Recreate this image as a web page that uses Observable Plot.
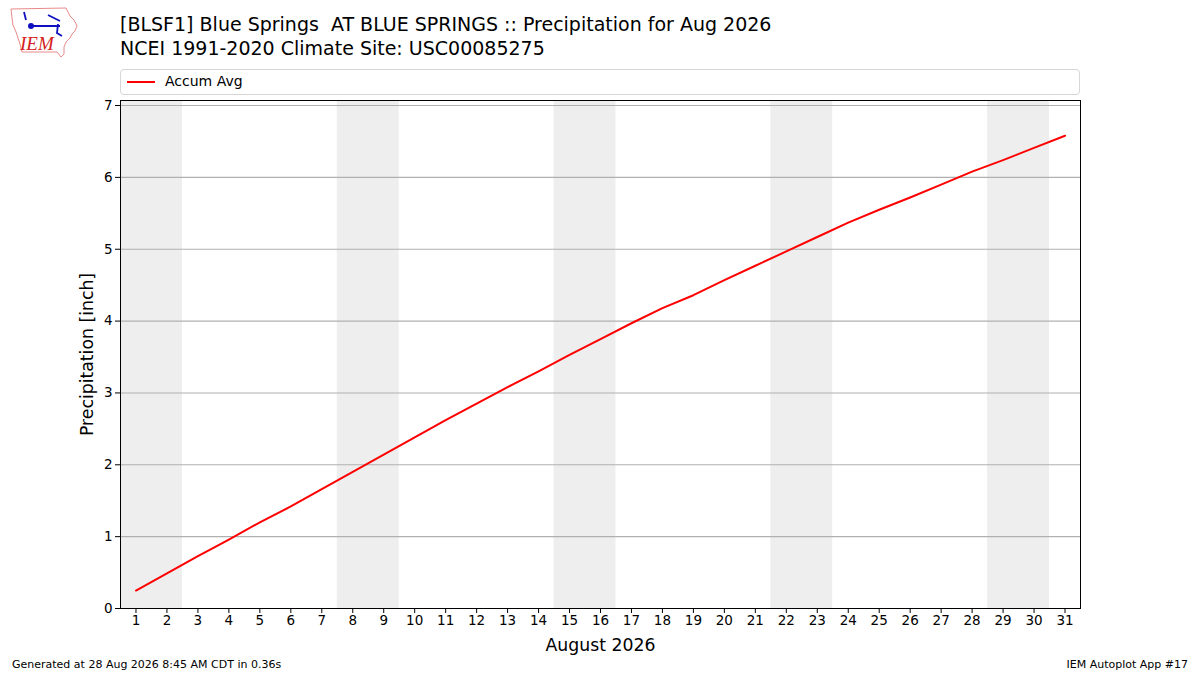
<!DOCTYPE html>
<html>
<head>
<meta charset="utf-8">
<script src="https://cdn.jsdelivr.net/npm/d3@7"></script>
<script src="https://cdn.jsdelivr.net/npm/@observablehq/plot@0.6"></script>
<style>
  html, body { margin: 0; padding: 0; background: #fff; }
  body { width: 1200px; height: 675px; position: relative; overflow: hidden; font-family: "DejaVu Sans", sans-serif; color: #000; }
  .abs { position: absolute; white-space: nowrap; }
  #chart { position: absolute; left: 0; top: 0; }
  .title { font-size: 19px; left: 120px; line-height: 24px; }
  .legend { left: 120px; top: 69px; width: 958px; height: 24px; border: 1px solid #d6d6d6; border-radius: 4px; background: rgba(255,255,255,0.8); }
  .legend .swatch { position: absolute; left: 6px; top: 11px; width: 28px; height: 2px; background: #ff0000; }
  .legend .lbl { position: absolute; left: 44px; top: 3px; font-size: 14px; }
  .foot { font-size: 11px; top: 658px; }
</style>
</head>
<body>
<div id="chart"></div>
<svg class="abs" style="left:0;top:0" width="90" height="62">
  <polygon points="11,9 66,8 68,12 70,16 74,20 77,26 75,31 72,34 70,38 66,42 64,47 64,54 61,57 57,52 22,52 20,44 18,38 16,32 13,25 12,18" fill="none" stroke="#e88a8a" stroke-width="1"/>
  <path d="M24,12 L26,20 M30,26 L60,26 M48,15 L60,21 M58,24 L57,33 L62,36" stroke="#1010c0" stroke-width="1.8" fill="none"/>
  <circle cx="31" cy="26" r="3" fill="#1010c0"/>
  <text x="20" y="50" font-family="Liberation Serif, serif" font-style="italic" font-size="19" fill="#d42020">IEM</text>
</svg>
<div class="abs title" style="top:12px">[BLSF1] Blue Springs&nbsp; AT BLUE SPRINGS :: Precipitation for Aug 2026</div>
<div class="abs title" style="top:36px">NCEI 1991-2020 Climate Site: USC00085275</div>
<div class="abs legend"><div class="swatch"></div><div class="lbl">Accum Avg</div></div>
<div class="abs foot" style="left:12px">Generated at 28 Aug 2026 8:45 AM CDT in 0.36s</div>
<div class="abs foot" style="right:12px">IEM Autoplot App #17</div>
<script>
const days = d3.range(1, 32);
const accumAvg = [0.25, 0.49, 0.73, 0.96, 1.20, 1.42, 1.66, 1.90, 2.14, 2.38,
                  2.62, 2.85, 3.08, 3.30, 3.53, 3.75, 3.97, 4.18, 4.36, 4.57,
                  4.77, 4.97, 5.17, 5.37, 5.55, 5.72, 5.90, 6.08, 6.24, 6.41, 6.58];
const weekendStarts = [1, 8, 15, 22, 29];
const yTicks = [0, 1, 2, 3, 4, 5, 6, 7];
const xTicks = days;

const series = days.map((d, i) => ({day: d, value: accumAvg[i]}));
const weekends = weekendStarts.map(d => ({x1: d - 0.5, x2: d + 1.5}));

const chart = Plot.plot({
  width: 1200,
  height: 675,
  marginLeft: 120,
  marginRight: 120,
  marginTop: 100,
  marginBottom: 67,
  style: {fontFamily: "DejaVu Sans, sans-serif", fontSize: "13.5px", color: "#000", background: "transparent"},
  x: {domain: [0.5, 31.5], ticks: xTicks, tickFormat: d => String(d), tickSize: 5, tickPadding: 2, label: null},
  y: {domain: [0, 7.07], ticks: yTicks, tickFormat: d => String(d), tickSize: 5, tickPadding: 3, label: null},
  marks: [
    Plot.rect(weekends, {x1: "x1", x2: "x2", fill: "#eeeeee"}),
    Plot.gridY(yTicks.slice(1), {stroke: "#b0b0b0", strokeOpacity: 1, strokeWidth: 1.1}),
    Plot.line(series, {x: "day", y: "value", stroke: "#ff0000", strokeWidth: 2}),
    Plot.axisX({ticks: xTicks, tickSize: 5, tickPadding: 2, tickFormat: d => String(d), label: null, fontSize: 13.5}),
    Plot.axisY({ticks: yTicks, tickSize: 5, tickPadding: 3, tickFormat: d => String(d), label: null, fontSize: 13.5}),
    Plot.frame({stroke: "#000", strokeWidth: 1}),
    Plot.text(["August 2026"], {frameAnchor: "bottom", dy: 42, fontSize: 17.3, fill: "#000"}),
    Plot.text(["Precipitation [inch]"], {frameAnchor: "left", textAnchor: "middle", dx: -33, rotate: -90, fontSize: 17.3, fill: "#000"})
  ]
});
document.getElementById("chart").appendChild(chart);
</script>
</body>
</html>
